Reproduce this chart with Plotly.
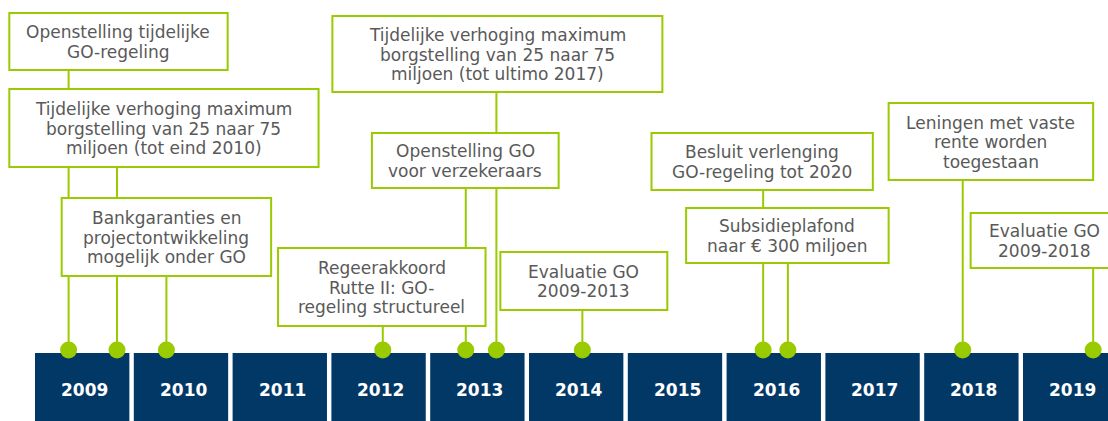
import plotly.graph_objects as go

# ---------------- data ----------------
years = [2009, 2010, 2011, 2012, 2013, 2014, 2015, 2016, 2017, 2018, 2019]

event_dates = [2009.34, 2009.83, 2010.33, 2012.52, 2013.36, 2013.67,
               2014.54, 2016.37, 2016.62, 2018.39, 2019.71]

event_labels = [
    ["Openstelling tijdelijke", "GO-regeling"],
    ["Tijdelijke verhoging maximum", "borgstelling van 25 naar 75", "miljoen (tot eind 2010)"],
    ["Bankgaranties en", "projectontwikkeling", "mogelijk onder GO"],
    ["Regeerakkoord", "Rutte II: GO-", "regeling structureel"],
    ["Openstelling GO", "voor verzekeraars"],
    ["Tijdelijke verhoging maximum", "borgstelling van 25 naar 75", "miljoen (tot ultimo 2017)"],
    ["Evaluatie GO", "2009-2013"],
    ["Besluit verlenging", "GO-regeling tot 2020"],
    ["Subsidieplafond", "naar € 300 miljoen"],
    ["Leningen met vaste", "rente worden", "toegestaan"],
    ["Evaluatie GO", "2009-2018"],
]

# ---------------- layout of the label boxes (x in years, y in screen units) ----------------
box_x0 = [2008.74, 2008.74, 2009.27, 2011.46, 2012.41, 2012.01, 2013.71, 2015.24, 2015.59, 2017.64, 2018.47]
box_x1 = [2010.95, 2011.87, 2011.39, 2013.56, 2014.30, 2015.35, 2015.40, 2017.48, 2017.64, 2019.71, 2019.97]
box_y0 = [13, 89, 198, 248, 133, 16, 252, 133, 208, 103, 213]
box_y1 = [70, 167, 276, 326, 188, 92, 310, 190, 263, 180, 268]

NAVY = "#023866"
GREEN = "#9ACA00"
TEXT = "#595959"
FONT = "DejaVu Sans, Verdana, sans-serif"
DOT_Y = 350
BAR_TOP = 353
LINE_H = 19.5

fig = go.Figure()

# year blocks
fig.add_trace(go.Bar(
    x=[y + 0.4775 for y in years], y=[120] * len(years), base=BAR_TOP,
    width=0.955, marker=dict(color=NAVY, line=dict(width=0)),
    hoverinfo="skip", showlegend=False,
))

# connector lines
lx, ly = [], []
for d, y0, y1 in zip(event_dates, box_y0, box_y1):
    lx += [d, d, None]
    ly += [DOT_Y, (y0 + y1) / 2, None]
fig.add_trace(go.Scatter(x=lx, y=ly, mode="lines", line=dict(color=GREEN, width=2),
                         hoverinfo="skip", showlegend=False))

# dots
fig.add_trace(go.Scatter(x=event_dates, y=[DOT_Y] * len(event_dates), mode="markers",
                         marker=dict(color=GREEN, size=17, line=dict(width=0)),
                         hoverinfo="skip", showlegend=False))

shapes = []
annotations = []
for lines, x0, x1, y0, y1 in zip(event_labels, box_x0, box_x1, box_y0, box_y1):
    shapes.append(dict(type="rect", xref="x", yref="y", x0=x0, x1=x1, y0=y0, y1=y1,
                       fillcolor="white", line=dict(color=GREEN, width=2), layer="above"))
    cx = (x0 + x1) / 2
    cy = (y0 + y1) / 2
    n = len(lines)
    for i, t in enumerate(lines):
        annotations.append(dict(x=cx, y=cy + (i - (n - 1) / 2) * LINE_H + 0.5, xref="x", yref="y",
                                text=t, showarrow=False, xanchor="center", yanchor="middle",
                                font=dict(family=FONT, size=17, color=TEXT)))

for y in years:
    annotations.append(dict(x=y + 0.5, y=390, xref="x", yref="y", text=f"<b>{y}</b>",
                            showarrow=False, xanchor="center", yanchor="middle",
                            font=dict(family=FONT, size=17, color="white")))

fig.update_layout(
    width=1108, height=421,
    margin=dict(l=0, r=0, t=0, b=0),
    paper_bgcolor="white", plot_bgcolor="white",
    xaxis=dict(range=[2008.6457, 2019.8603], visible=False, fixedrange=True),
    yaxis=dict(range=[421, 0], visible=False, fixedrange=True),
    shapes=shapes, annotations=annotations, showlegend=False,
)

fig.write_html("out.html", config={"displayModeBar": False},
               post_script="document.body.style.margin='0';")
